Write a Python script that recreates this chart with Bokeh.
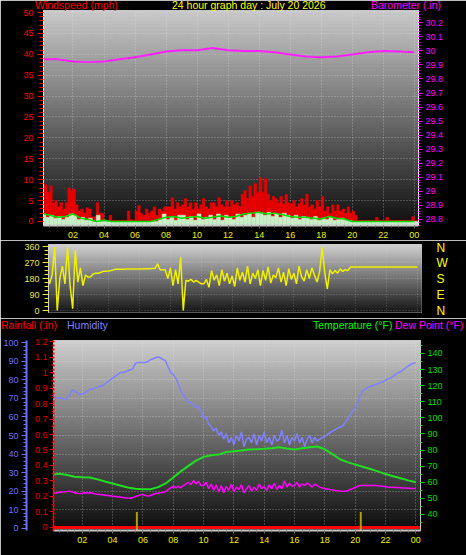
import numpy as np
from bokeh.plotting import figure
from bokeh.models import Range1d, LinearAxis, FixedTicker, Grid, Div
from bokeh.layouts import column
from bokeh.embed import file_html
from bokeh.resources import INLINE

FONT = "Liberation Sans"

# ---------------- data ----------------
chart_title = "24 hour graph day : July 20 2026"
hour_ticks = [2, 4, 6, 8, 10, 12, 14, 16, 18, 20, 22, 24]
hour_tick_labels = ["02", "04", "06", "08", "10", "12", "14", "16", "18", "20", "22", "00"]

# barometer, hourly (inHg)
baro_hours = list(range(25))
baro_inhg = [29.94, 29.94, 29.925, 29.92, 29.925, 29.94, 29.955, 29.975, 29.995, 30.005,
             30.005, 30.02, 30.005, 30.0, 30.0, 29.99, 29.975, 29.96, 29.955, 29.96,
             29.975, 29.99, 30.0, 29.995, 29.99]

# wind gust, 10-minute samples (mph)
gust_mph = [
    9.0, 8.8, 7.0, 8.5, 4.5, 5.0,
    3.5, 4.5, 3.0, 4.5, 8.0, 7.5,
    7.8, 4.0, 2.5, 3.0, 2.0, 3.3,
    3.0, 1.0, 1.2, 4.5, 2.0, 2.0,
    0.3, 0.3, 1.5, 0.3, 0.3, 0.3,
    0.3, 0.3, 0.3, 2.5, 0.5, 0.3,
    2.5, 3.8, 2.0, 1.5, 3.0, 2.0,
    2.5, 3.5, 1.5, 3.0, 2.5, 3.5,
    3.5, 3.5, 5.7, 3.0, 4.5, 3.5,
    4.0, 5.5, 3.5, 4.5, 3.0, 4.5,
    3.0, 4.0, 5.5, 3.5, 3.0, 4.5,
    4.5, 3.5, 5.7, 4.0, 3.5, 5.0,
    3.5, 5.0, 4.0, 4.5, 3.5, 6.5,
    7.4, 5.5, 8.5, 6.0, 9.0, 7.0,
    10.5, 7.0, 10.2, 6.5, 5.0, 6.0,
    5.5, 4.5, 6.0, 4.2, 6.5, 4.5,
    4.2, 5.0, 3.5, 4.2, 5.5, 4.0,
    6.5, 3.5, 4.0, 3.0, 5.0, 3.5,
    6.0, 2.5, 3.5, 2.0, 4.0, 2.5,
    4.0, 2.5, 3.0, 2.0, 3.5, 2.0,
    2.5, 1.5, 0.3, 0.3, 0.3, 0.3,
    0.3, 0.3, 0.3, 1.0, 0.3, 0.3,
    0.3, 1.0, 0.3, 0.3, 0.3, 0.3,
    0.3, 0.3, 0.3, 0.3, 0.3, 1.2,
    0.3]

# average wind, 30-minute samples (mph)
wind_avg_mph = [
    1.9, 1.5, 1.0, 1.2, 1.8, 0.8, 0.5, 0.0, 0.3, 0.0, 0.0, 0.0,
    0.0, 0.0, 0.0, 0.5, 1.0, 1.2, 0.8, 1.0, 1.2, 0.8, 1.0, 1.3,
    1.0, 1.2, 1.8, 2.0, 2.2, 1.8, 2.0, 1.6, 1.2, 1.0, 1.0, 0.8,
    0.6, 1.2, 0.8, 0.6, 0.0, 0.0, 0.0, 0.0, 0.0, 0.0, 0.0, 0.0,
    0.0]

# wind speed, 15-minute samples (mph)
wind_speed_mph = [
    1.8, 1.0, 1.5, 0.8, 1.2, 0.5, 1.0, 1.8, 1.5, 0.5, 1.0, 0.3,
    0.8, 0.0, 1.5, 0.0, 0.0, 0.0, 0.0, 0.0, 0.0, 0.0, 0.0, 0.0,
    0.0, 0.0, 0.0, 0.0, 0.0, 0.0, 0.5, 1.8, 0.5, 1.0, 0.3, 1.5,
    1.5, 0.5, 1.2, 0.3, 1.8, 0.5, 1.0, 1.5, 0.5, 1.8, 0.3, 1.5,
    1.0, 0.5, 1.8, 1.0, 1.5, 2.0, 1.0, 2.2, 2.0, 1.5, 2.2, 1.2,
    1.8, 1.0, 2.0, 1.5, 0.8, 1.5, 0.5, 1.2, 1.0, 0.5, 1.2, 0.3,
    0.8, 0.5, 1.0, 0.3, 0.5, 0.8, 0.3, 0.2, 0.0, 0.0, 0.0, 0.0,
    0.0, 0.0, 0.0, 0.0, 0.0, 0.0, 0.0, 0.0, 0.0, 0.0, 0.0, 0.0,
    0.0]

# wind direction, 10-minute samples (degrees)
wind_dir_deg = [
    210, 150, 200, 355, 0, 180,
    250, 150, 355, 140, 10, 340,
    160, 240, 140, 200, 187, 190,
    206, 210, 210, 215, 221, 221,
    222, 225, 230, 232, 232, 232,
    232, 233, 233, 233, 234, 234,
    234, 234, 235, 235, 235, 236,
    236, 262, 229, 229, 229, 180,
    240, 140, 230, 150, 300, 0,
    170, 165, 175, 160, 170, 160,
    150, 150, 175, 130, 225, 170,
    200, 140, 230, 165, 210, 150,
    195, 135, 240, 170, 215, 160,
    250, 150, 210, 180, 230, 140,
    225, 170, 245, 155, 200, 185,
    240, 160, 215, 140, 235, 175,
    210, 150, 250, 190, 165, 230,
    180, 240, 200, 160, 220, 355,
    215, 122, 230, 206, 225, 210,
    234, 220, 230, 225, 244, 244,
    244, 244, 244, 244, 244, 244,
    244, 244, 244, 244, 244, 244,
    244, 244, 244, 244, 244, 244,
    244, 244, 244, 244, 244, 244,
    244]
dir_ticks = [0, 90, 180, 270, 360]
dir_compass = ["N", "E", "S", "W", "N"]

# temperature, 30-minute samples (F)
temp_f = [
    64.8, 65.3, 64.5, 63.5, 63.2, 63.0, 61.8, 60.5, 59.3, 58.0,
    56.8, 56.0, 55.7, 55.7, 57.0, 59.3, 63.0, 66.8, 70.2, 73.5,
    75.8, 76.8, 77.2, 78.8, 79.3, 79.8, 80.3, 80.6, 80.8, 81.2,
    81.8, 81.0, 80.4, 81.2, 81.8, 82.2, 80.5, 77.5, 74.3, 72.5,
    71.0, 69.7, 68.3, 66.8, 65.1, 63.8, 62.5, 61.2, 60.0]

# dew point, 10-minute samples (F)
dew_f = [
    53.0, 53.2, 53.5, 53.8, 54.0, 54.2,
    54.3, 54.5, 54.0, 53.5, 53.2, 53.0,
    53.2, 53.5, 53.4, 53.5, 53.2, 52.8,
    52.5, 52.4, 52.2, 52.0, 51.8, 51.6,
    51.4, 51.2, 51.0, 50.8, 50.6, 50.4,
    50.2, 50.1, 50.6, 51.1, 51.6, 52.2,
    52.2, 51.8, 51.4, 51.8, 52.4, 53.0,
    53.2, 53.5, 53.8, 54.3, 55.5, 56.5,
    57.4, 56.5, 57.5, 56.6, 58.0, 59.0,
    60.0, 58.5, 61.1, 59.0, 60.5, 58.0,
    58.0, 60.0, 56.0, 59.0, 55.0, 58.5,
    54.0, 58.0, 53.5, 57.5, 55.0, 59.0,
    54.0, 57.0, 55.5, 58.5, 53.5, 56.0,
    58.0, 54.5, 57.0, 55.0, 59.0, 56.0,
    57.5, 55.0, 58.5, 56.0, 59.5, 55.5,
    58.0, 56.0, 61.0, 57.0, 59.5, 57.5,
    58.0, 60.0, 57.0, 59.0, 58.0, 59.5,
    58.5, 57.0, 59.0, 58.0, 57.0, 56.5,
    56.0, 55.8, 55.5, 55.3, 55.0, 54.8,
    54.6, 54.5, 54.5, 54.8, 55.5, 56.0,
    56.8, 57.5, 58.0, 58.0, 58.2, 58.0,
    58.0, 58.0, 58.0, 57.8, 57.7, 57.5,
    57.3, 57.0, 57.0, 56.9, 56.8, 56.7,
    56.6, 56.5, 56.4, 56.3, 56.2, 56.1,
    56.0]

# humidity, 10-minute samples (%)
humidity_pct = [
    72, 71, 70, 70.5, 70, 69.5,
    70, 72, 74.6, 74, 73, 72.4,
    72.4, 73, 74, 75, 75, 75.5,
    76, 76.5, 77, 78, 79, 80,
    81, 82, 83, 84, 84, 84.5,
    85, 85.5, 86, 89, 89.4, 89.4,
    89.4, 89.4, 90, 91, 91.5, 92,
    92.4, 92, 91, 90.3, 87, 84,
    83, 81, 78, 74, 72, 70,
    67.7, 68, 66, 65, 66, 63,
    59.6, 60, 56, 55, 52.4, 54,
    50, 52, 48, 51, 46, 49,
    45, 50, 47, 52, 44, 48,
    49, 46, 51, 45, 50, 47,
    52, 46, 49, 45, 50, 47,
    48, 53, 46, 50, 45, 49,
    47, 51, 46, 49, 44, 48,
    50, 46, 49, 47, 48, 48.8,
    49.5, 50.5, 51.5, 52.4, 53, 54,
    54.5, 55, 57, 59, 61, 63,
    65, 68, 72, 74, 75, 76,
    76.5, 77, 77.5, 78, 78.6, 79,
    80, 80.5, 81, 82, 83, 84,
    84.5, 85.5, 86.6, 87.5, 88.5, 89,
    89.4]

# rainfall (in)
rain_hours = [0.0, 24.4]
rain_in = [0.0, 0.0]
sun_marker_hours = [5.6, 20.37]

wind_ticks = [0, 5, 10, 15, 20, 25, 30, 35, 40, 45, 50]
baro_ticks = [28.8, 28.9, 29.0, 29.1, 29.2, 29.3, 29.4, 29.5, 29.6, 29.7, 29.8, 29.9, 30.0, 30.1, 30.2]
rain_ticks = [0.0, 0.1, 0.2, 0.3, 0.4, 0.5, 0.6, 0.7, 0.8, 0.9, 1.0, 1.1, 1.2]
hum_ticks = [0, 10, 20, 30, 40, 50, 60, 70, 80, 90, 100]
temp_ticks = [40, 50, 60, 70, 80, 90, 100, 110, 120, 130, 140]

# ---------------- helpers ----------------
W = 466
XLAB = "#f0f000"


def base_fig(h, xr, yr, mb):
    p = figure(width=W, height=h, x_range=Range1d(*xr), y_range=Range1d(*yr),
               output_backend="svg", toolbar_location=None,
               x_axis_location=None, y_axis_location=None,
               background_fill_color="black", border_fill_color="black",
               min_border_left=mb[0], min_border_right=mb[1],
               min_border_top=mb[2], min_border_bottom=mb[3])
    p.frame_align = False
    p.xgrid.visible = False
    p.ygrid.visible = False
    p.outline_line_color = "#c8c8c8"
    p.outline_line_width = 1
    return p


def gradient(p, yr, top, bottom, n=64):
    x0, x1 = p.x_range.start, p.x_range.end
    edges = np.linspace(yr[0], yr[1], n + 1)
    g = np.linspace(bottom, top, n).round().astype(int)
    cols = ["#%02x%02x%02x" % (v, v, v) for v in g]
    p.quad(left=x0, right=x1, bottom=edges[:-1], top=edges[1:],
           fill_color=cols, line_color=cols, line_width=1, level="image")


def add_grid(p, dim, ticks, range_name="default", alpha=0.45):
    g = Grid(dimension=dim, ticker=FixedTicker(ticks=ticks),
             grid_line_color="#e8e8e8", grid_line_alpha=alpha, grid_line_dash="1 2")
    if dim == 1:
        g.y_range_name = range_name
    p.add_layout(g, "center")


def style_axis(ax, color, size="9px", tick_color=None, line_color=None, tick_out=4, standoff=3):
    ax.major_label_text_color = color
    ax.major_label_text_font = FONT
    ax.major_label_text_font_size = size
    ax.major_tick_line_color = tick_color or color
    ax.minor_tick_line_color = tick_color or color
    ax.major_tick_in = 0
    ax.minor_tick_in = 0
    ax.major_tick_out = tick_out
    ax.minor_tick_out = max(tick_out - 2, 2)
    ax.major_label_standoff = standoff
    ax.axis_line_color = line_color


def hour_axis(p):
    ax = LinearAxis(ticker=FixedTicker(ticks=hour_ticks, minor_ticks=list(np.arange(0.5, 24.3, 0.5))),
                    major_label_overrides=dict(zip(hour_ticks, hour_tick_labels)))
    style_axis(ax, XLAB, tick_color="#707070", line_color="#c8c8c8", tick_out=3, standoff=3)
    ax.axis_line_width = 2
    p.add_layout(ax, "below")


def header(top, height, items):
    spans = "".join(
        '<span style="position:absolute;left:%dpx;top:%dpx;color:%s;white-space:nowrap;">%s</span>'
        % (x, y, c, t) for (x, y, t, c) in items)
    html = ('<div style="position:relative;width:%dpx;height:%dpx;font-family:\'%s\';'
            'font-size:10.5px;line-height:11px;">%s</div>' % (W, height, FONT, spans))
    return Div(text=html, width=W, height=height,
               styles={"position": "absolute", "left": "0px", "top": "%dpx" % top,
                       "z-index": "10", "margin": "0px", "padding": "0px"})


# ---------------- panel 1 : wind + barometer ----------------
wind_r = (-0.96, 50.48)
p1 = base_fig(240, (0.1, 24.27), wind_r, (43, 48, 10, 15))
p1.extra_y_ranges = {"baro": Range1d(28.757, 30.2875)}
gradient(p1, wind_r, 200, 16)
add_grid(p1, 0, hour_ticks)
add_grid(p1, 1, wind_ticks)

t10 = np.arange(len(gust_mph)) / 6.0
t15 = np.arange(len(wind_speed_mph)) / 4.0
t30 = np.arange(len(wind_avg_mph)) / 2.0

p1.vbar(x=t10 + 1 / 12, top=gust_mph, bottom=0, width=1 / 6,
        fill_color="#e80000", line_color="#e80000", line_width=0.5)
p1.vbar(x=t15 + 1 / 8, top=wind_speed_mph, bottom=wind_r[0], width=0.25,
        fill_color="#c8eec8", line_color="#c8eec8", line_width=0.5)
p1.line(t30, wind_avg_mph, line_color="#00e000", line_width=1.5)
p1.line(baro_hours, baro_inhg, y_range_name="baro", line_color="#ff20ff", line_width=2)

ay1 = LinearAxis(ticker=FixedTicker(ticks=wind_ticks, minor_ticks=list(range(0, 51))))
style_axis(ay1, "#ff0000", line_color="#e0e0e0", tick_out=6, standoff=4)
p1.add_layout(ay1, "left")
ab1 = LinearAxis(y_range_name="baro",
                 ticker=FixedTicker(ticks=baro_ticks, minor_ticks=list(np.arange(28.76, 30.29, 0.02))),
                 major_label_overrides={29.0: "29", 30.0: "30"})
style_axis(ab1, "#ff00ff", line_color="#f0f0f0", tick_out=4, standoff=3)
p1.add_layout(ab1, "right")
hour_axis(p1)

# ---------------- panel 2 : wind direction ----------------
dir_r = (-11.25, 371.25)
p2 = base_fig(78, (0.1, 24.27), dir_r, (48, 45, 4, 6))
gradient(p2, dir_r, 205, 22, n=40)
add_grid(p2, 0, hour_ticks, alpha=0.25)
add_grid(p2, 1, dir_ticks, alpha=0.3)
p2.line(t10, wind_dir_deg, line_color="#f0f000", line_width=1.5)

ay2 = LinearAxis(ticker=FixedTicker(ticks=dir_ticks, minor_ticks=list(np.arange(0, 361, 22.5))))
style_axis(ay2, "#e8e840", line_color="#d0d0d0", tick_out=6, standoff=3)
p2.add_layout(ay2, "left")
ar2 = LinearAxis(ticker=FixedTicker(ticks=dir_ticks, minor_ticks=[]),
                 major_label_overrides=dict(zip(dir_ticks, dir_compass)))
style_axis(ar2, "#ffff00", size="12px", line_color=None, tick_out=0, standoff=15)
ar2.major_tick_line_color = None
p2.add_layout(ar2, "right")

# ---------------- panel 3 : rain, humidity, temperature, dew point ----------------
rain_r = (-0.0194, 1.2065)
p3 = base_fig(237, (0.1, 24.31), rain_r, (52, 46, 22, 25))
p3.extra_y_ranges = {"hum": Range1d(-1.35, 101.35), "temp": Range1d(30.06, 148.07)}
gradient(p3, rain_r, 205, 12)
add_grid(p3, 0, hour_ticks)
add_grid(p3, 1, hum_ticks, range_name="hum")

p3.line(t10, humidity_pct, y_range_name="hum", line_color="#8080ff", line_width=1.5)
p3.line(t30, temp_f, y_range_name="temp", line_color="#22dd22", line_width=2)
p3.line(t10, dew_f, y_range_name="temp", line_color="#ff00ff", line_width=1.5)
p3.line(rain_hours, rain_in, line_color="#ff0000", line_width=3)
p3.segment(x0=sun_marker_hours, y0=rain_r[0], x1=sun_marker_hours, y1=0.1,
           line_color="#b0a000", line_width=2)

ar3 = LinearAxis(ticker=FixedTicker(ticks=rain_ticks, minor_ticks=list(np.arange(0, 1.21, 0.05))),
                 major_label_overrides={0.0: "0", 1.0: "1"})
style_axis(ar3, "#e00000", line_color="#ff0000", tick_out=4, standoff=2)
ar3.axis_line_dash = "2 2"
ar3.axis_line_width = 2
ar3.axis_label = " "
ar3.axis_label_text_font_size = "2px"
ar3.axis_label_standoff = 0
p3.add_layout(ar3, "left")
ah3 = LinearAxis(y_range_name="hum",
                 ticker=FixedTicker(ticks=hum_ticks, minor_ticks=list(range(0, 101, 2))))
style_axis(ah3, "#7070ff", line_color="#7070ff", tick_out=5, standoff=3)
ah3.axis_line_width = 2
p3.add_layout(ah3, "left")
at3 = LinearAxis(y_range_name="temp",
                 ticker=FixedTicker(ticks=temp_ticks, minor_ticks=list(range(35, 146, 5))))
style_axis(at3, "#00dd00", line_color="#c8c8c8", tick_out=4, standoff=3)
p3.add_layout(at3, "right")
hour_axis(p3)

# ---------------- headers (real text) ----------------
hdr1 = header(0, 12, [(35, 0, "Windspeed (mph)", "#ff0000"),
                      (172, 0, chart_title, "#ffff00"),
                      (371, 0, "Barometer (.in)", "#ff00ff")])
hdr3 = header(318, 16, [(1, 2, "Rainfall (.in)", "#ff0000"),
                        (67, 2, "Humidity", "#8080ff"),
                        (313, 2, "Temperature (°F)", "#00ff00"),
                        (395, 2, "Dew Point (°F)", "#ff00ff")])

layout = column(p1, p2, p3, spacing=0)
open("out.html", "w").write(file_html([layout, hdr1, hdr3], INLINE, "24 hour graph"))
